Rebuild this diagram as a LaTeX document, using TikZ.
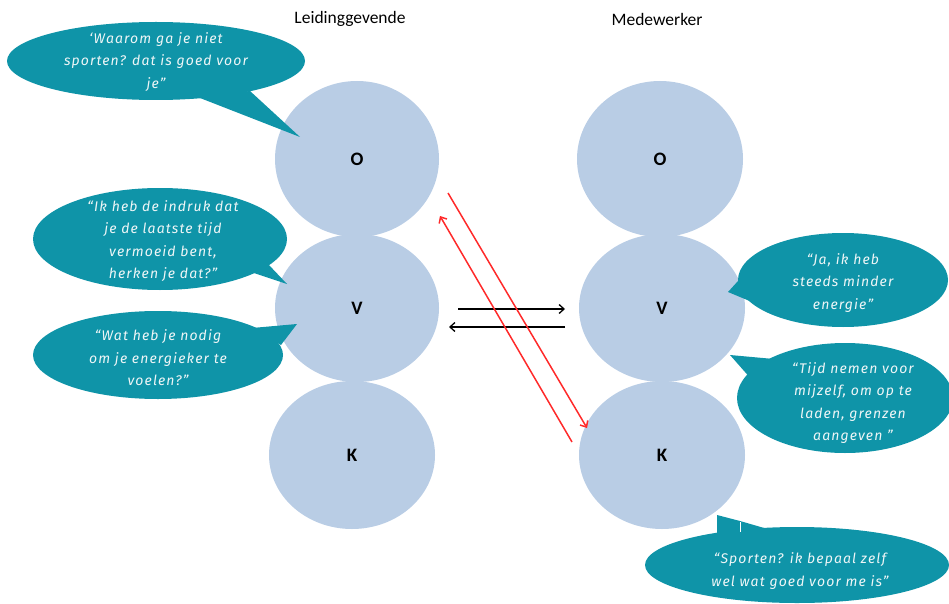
\documentclass[tikz,border=0pt]{standalone}
\usepackage{fontspec}
\setmainfont{Carlito}
\newfontfamily\bubblefont[LetterSpace=8]{Fira Sans}
\usetikzlibrary{shapes.geometric,arrows.meta}
\definecolor{circblue}{HTML}{B9CDE5}
\definecolor{bubteal}{HTML}{0F94A8}
\definecolor{bubtext}{HTML}{EEF6F7}
\definecolor{arrred}{HTML}{FF2A2A}
\begin{document}
\begin{tikzpicture}[x=1pt,y=-1pt,
  circ/.style={ellipse, fill=circblue, inner sep=0pt, font=\bfseries\fontsize{19}{22}\selectfont},
  btext/.style={text=bubtext, align=center, inner sep=0pt, font=\bubblefont\itshape\fontsize{14}{22.5}\selectfont},
  bfill/.style={fill=bubteal},
  title/.style={font=\fontsize{17.5}{20}\selectfont, inner sep=0pt},
  blackarr/.style={draw=black, line width=1.3pt, -{Straight Barb[length=5pt,width=9pt,line width=1.3pt]}},
  redarr/.style={draw=arrred, line width=1.5pt, -{Straight Barb[length=5pt,width=9pt,line width=1.5pt]}},
]
\useasboundingbox (0,0) rectangle (949,604);

% titles
\node[title] (t1) at (350,19) {Leidinggevende};
\node[title] (t2) at (657,19) {Medewerker};

% circles
\node[circ, minimum width=164pt, minimum height=156pt] (LO) at (357,159) {O};
\node[circ, minimum width=164pt, minimum height=148pt] (LV) at (357,308) {V};
\node[circ, minimum width=166pt, minimum height=148pt] (LK) at (352,455) {K};
\node[circ, minimum width=166pt, minimum height=156pt] (RO) at (660,159) {O};
\node[circ, minimum width=166pt, minimum height=148pt] (RV) at (662,308) {V};
\node[circ, minimum width=166pt, minimum height=148pt] (RK) at (662,455) {K};

% bubble 1
\fill[bfill] (156,61) ellipse [x radius=149, y radius=39];
\fill[bfill] (200,98) -- (300,137) -- (250,91) -- cycle;
\node[btext] (b1) at (156,62) {‘Waarom ga je niet\\sporten? dat is goed voor\\je”};

% bubble 2
\fill[bfill] (160,239) ellipse [x radius=127, y radius=51];
\fill[bfill] (268,264) -- (287,284) -- (254,273) -- cycle;
\node[btext] (b2) at (163,241) {“Ik heb de indruk dat\\je de laatste tijd\\vermoeid bent,\\herken je dat?”};

% bubble 3
\fill[bfill] (158,355) ellipse [x radius=125, y radius=44];
\fill[bfill] (252,328) -- (297,324) -- (281,345) -- cycle;
\node[btext] (b3) at (158,358) {“Wat heb je nodig\\om je energieker te\\voelen?”};

% bubble 4
\fill[bfill] (843,280) ellipse [x radius=105, y radius=47];
\fill[bfill] (748,270) -- (728,292) -- (752,302) -- cycle;
\node[btext] (b4) at (843,283) {“Ja, ik heb\\steeds minder\\energie”};

% bubble 5
\fill[bfill] (845,398) ellipse [x radius=108, y radius=55];
\fill[bfill] (730,355) -- (785,360) -- (752,380) -- cycle;
\node[btext] (b5) at (853,403) {“Tijd nemen voor\\mijzelf, om op te\\laden, grenzen\\aangeven ”};

% bubble 6
\fill[bfill] (797,565) ellipse [x radius=152, y radius=38];
\fill[bfill] (717,540) -- (717,515) -- (740,521) -- (778,532) -- (778,540) -- cycle;
\draw[white, line width=0.8pt] (740,522) -- (740,532);
\node[btext] (b6) at (800,571) {“Sporten? ik bepaal zelf\\wel wat goed voor me is”};

% arrows
\coordinate (ba1s) at (458,309);
\coordinate (ba1e) at (565,309);
\coordinate (ba2s) at (565,327);
\coordinate (ba2e) at (449,327);
\draw[blackarr] (ba1s) -- (ba1e);
\draw[blackarr] (ba2s) -- (ba2e);

\coordinate (ra1s) at (448,193);
\coordinate (ra1e) at (587,428);
\coordinate (ra2s) at (572,442);
\coordinate (ra2e) at (440,216);
\draw[redarr] (ra1s) -- (ra1e);
\draw[redarr] (ra2s) -- (ra2e);
\end{tikzpicture}
\end{document}
